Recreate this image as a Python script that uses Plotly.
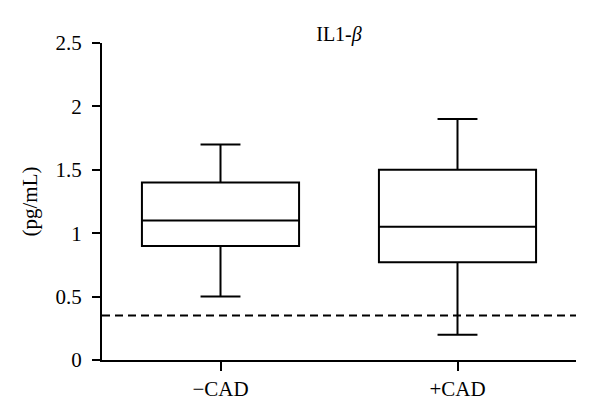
import plotly.graph_objects as go

categories = ["−CAD", "+CAD"]
lower_whisker = [0.5, 0.2]
q1 = [0.9, 0.77]
median = [1.1, 1.05]
q3 = [1.4, 1.5]
upper_whisker = [1.7, 1.9]
threshold = 0.35
y_ticks = [0, 0.5, 1, 1.5, 2, 2.5]

FONT = "Liberation Serif"

fig = go.Figure()
fig.add_trace(go.Box(
    x=categories,
    q1=q1, median=median, q3=q3,
    lowerfence=lower_whisker, upperfence=upper_whisker,
    fillcolor="white",
    line=dict(color="black", width=2),
    whiskerwidth=0.254,
    boxpoints=False,
    showlegend=False,
    hoverinfo="skip",
))

fig.add_shape(type="line", xref="paper", yref="y", x0=0, x1=1,
              y0=threshold, y1=threshold,
              line=dict(color="black", width=2, dash="8px,5px"))

fig.update_layout(
    width=600, height=418,
    margin=dict(l=102, r=24, t=43, b=58),
    paper_bgcolor="white", plot_bgcolor="white",
    font=dict(family=FONT, size=20, color="black"),
    boxgap=0.337, boxgroupgap=0,
    title=dict(text="IL1-<i>β</i>", x=0.5, xref="paper", xanchor="center",
               y=1 - 34 / 418, yref="container", yanchor="middle",
               font=dict(family=FONT, size=20, color="black")),
    xaxis=dict(
        range=[-0.5, 1.5], showline=True, linecolor="black", linewidth=2,
        ticks="outside", ticklen=9, tickwidth=2, tickcolor="black",
        showgrid=False, zeroline=False, automargin=False,
        tickfont=dict(family=FONT, size=21),
    ),
    yaxis=dict(
        range=[0, 2.5], tickvals=y_ticks, showline=True, linecolor="black",
        linewidth=2, ticks="outside", ticklen=8, tickwidth=2, tickcolor="black",
        showgrid=False, zeroline=False, ticklabelstandoff=6, automargin=False,
        tickfont=dict(family=FONT, size=21),
        title=dict(text="(pg/mL)", standoff=12, font=dict(family=FONT, size=21)),
    ),
)

fig.write_html("out.html", config={"displayModeBar": False},
               post_script="document.body.style.margin='0px';document.body.style.overflow='hidden';")
